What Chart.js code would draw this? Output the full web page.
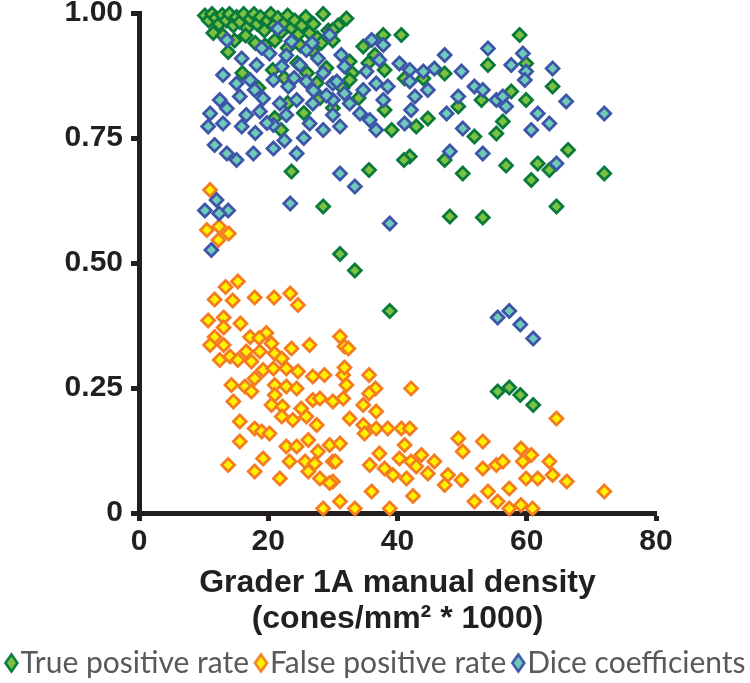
<!DOCTYPE html>
<html><head><meta charset="utf-8">
<script src="https://cdn.jsdelivr.net/npm/chart.js@4/dist/chart.umd.min.js"></script>
<style>html,body{margin:0;padding:0;background:#fff}</style>
</head><body>
<canvas id="c" width="750" height="683"></canvas>
<script>
const seriesNames = ['True positive rate', 'False positive rate', 'Dice coefficients'];
const xTitle = ['Grader 1A manual density', '(cones/mm\u00B2 * 1000)'];
const xTickValues = [0, 20, 40, 60, 80];
const yTickValues = [0, 0.25, 0.5, 0.75, 1];

const truePositive = [
[10.2,0.995],[10.8,0.985],[11.3,0.998],[11.9,0.99],[12.4,0.978],[12.9,0.996],[13.5,0.985],[14.0,0.998],[14.6,0.975],[15.1,0.992],
[15.6,0.982],[16.2,0.998],[16.7,0.97],[17.2,0.988],[17.8,0.998],[18.3,0.978],[18.8,0.992],[19.4,0.965],[19.9,0.985],[20.4,0.998],
[20.9,0.975],[21.5,0.99],[22.0,0.962],[22.5,0.98],[23.0,0.995],[23.6,0.97],[24.1,0.985],[24.7,0.958],[25.2,0.975],[25.8,0.992],
[26.4,0.96],[27.0,0.978],[27.6,0.95],[28.5,0.998],[29.3,0.965],[30.0,0.945],[30.8,0.975],[32.1,0.989],
[11.5,0.96],[13.0,0.955],[14.8,0.945],[16.5,0.955],[18.0,0.94],[19.5,0.935],[21.0,0.945],[23.0,0.93],[25.0,0.935],[26.8,0.925],[28.2,0.94],[13.8,0.922],
[20.7,0.886],[22.5,0.87],[24.5,0.9],[26.0,0.88],[27.5,0.86],[29.0,0.89],[30.0,0.81],[31.5,0.85],[33.0,0.88],[34.0,0.83],[35.5,0.9],
[28.0,0.83],[25.5,0.8],[23.0,0.82],[21.0,0.79],[18.5,0.85],[16.0,0.88],[22.0,0.766],[23.6,0.683],
[30.0,0.966],[37.8,0.956],[40.6,0.956],[34.7,0.933],[36.5,0.916],[32.6,0.903],[38.0,0.886],[47.3,0.879],[41.1,0.869],[44.0,0.869],
[32.6,0.866],[57.6,0.843],[59.9,0.826],[53.0,0.826],[49.4,0.813],[38.0,0.806],[44.7,0.789],[39.1,0.766],[42.9,0.773],[56.3,0.783],
[55.3,0.759],[51.9,0.753],[58.9,0.956],[54.0,0.896],[59.9,0.899],[64.0,0.853],[66.4,0.726],[61.7,0.699],[63.5,0.686],[60.7,0.666],
[56.8,0.695],[50.1,0.679],[41.9,0.713],[41.0,0.706],[47.3,0.706],[35.6,0.686],[72.0,0.679],
[28.5,0.613],[31.1,0.518],[33.4,0.485],[48.1,0.593],[53.2,0.591],[64.6,0.613],[38.8,0.404],
[55.5,0.243],[57.3,0.251],[59.0,0.236],[61.0,0.216]
];

const falsePositive = [
[11.0,0.646],[10.5,0.566],[12.4,0.573],[13.9,0.559],[12.3,0.546],
[15.3,0.463],[13.4,0.452],[11.7,0.427],[14.5,0.425],[17.9,0.431],[20.9,0.431],[23.4,0.439],[24.6,0.416],
[10.7,0.385],[13.1,0.391],[15.7,0.379],[13.1,0.371],[11.7,0.352],[17.2,0.352],[19.7,0.360],[18.6,0.350],[11.0,0.336],[13.1,0.336],[20.5,0.339],
[12.5,0.306],[14.1,0.313],[15.3,0.306],[16.6,0.323],[17.4,0.303],[18.7,0.323],[21.0,0.319],[22.1,0.309],[23.6,0.329],[26.4,0.336],[31.1,0.353],[31.8,0.333],
[19.2,0.286],[20.8,0.289],[22.8,0.289],[24.6,0.283],[26.9,0.273],[28.7,0.276],[31.6,0.276],
[14.3,0.256],[17.9,0.269],[16.4,0.253],[14.6,0.223],[17.4,0.243],[21.0,0.256],[22.8,0.253],[24.4,0.249],[21.0,0.236],[20.5,0.216],
[22.2,0.213],[25.1,0.209],[26.9,0.226],[28.0,0.229],[30.0,0.223],[31.6,0.229],
[22.1,0.193],[23.8,0.186],[25.9,0.193],[27.5,0.176],[15.6,0.183],[17.9,0.169],[19.0,0.163],[20.2,0.159],[15.6,0.143],[22.8,0.133],
[24.4,0.133],[26.2,0.146],[27.7,0.123],[29.5,0.136],[31.1,0.139],
[19.2,0.109],[23.3,0.103],[25.7,0.103],[27.2,0.099],[30.0,0.103],[13.8,0.096],[17.9,0.083],[21.8,0.069],[26.2,0.083],[28.0,0.069],
[30.0,0.063],[31.1,0.023],[28.5,0.009],
[32.4,0.329],[31.8,0.291],[32.1,0.256],[35.6,0.276],[36.6,0.249],[35.6,0.239],[42.1,0.249],[34.7,0.216],[36.7,0.203],[32.6,0.189],
[34.7,0.176],[36.7,0.169],[38.5,0.169],[40.6,0.169],[41.9,0.169],[34.9,0.159],[41.1,0.136],[37.2,0.119],[40.3,0.109],[42.1,0.103],
[43.7,0.116],[45.7,0.103],[30.4,0.103],[35.7,0.096],[38.0,0.089],[39.3,0.076],[41.4,0.069],[42.9,0.093],[44.7,0.079],[47.8,0.076],
[49.9,0.066],[47.3,0.056],[49.4,0.149],[50.1,0.123],[53.2,0.143],[53.2,0.089],[55.3,0.096],[56.3,0.103],[59.1,0.129],[60.7,0.116],
[59.4,0.103],[63.5,0.103],[59.9,0.069],[61.7,0.069],[64.0,0.076],[66.2,0.063],[57.3,0.049],[54.0,0.043],[55.5,0.023],[51.9,0.023],
[59.1,0.016],[60.9,0.009],[57.3,0.009],[64.6,0.189],[72.0,0.043],[33.4,0.009],[38.8,0.009],[29.5,0.060],[36.0,0.043],[42.4,0.034]
];

const diceCoefficients = [
[13.6,0.946],[15.9,0.909],[21.5,0.969],[18.2,0.896],[20.2,0.919],[23.6,0.943],[25.9,0.926],[29.5,0.956],[27.7,0.909],[24.9,0.896],[22.1,0.893],
[13.0,0.876],[15.1,0.859],[17.2,0.866],[20.8,0.866],[23.1,0.853],[25.9,0.863],[30.0,0.859],[31.8,0.893],
[12.5,0.826],[15.6,0.833],[17.9,0.846],[19.2,0.829],[21.8,0.819],[24.4,0.826],[26.9,0.819],[30.0,0.826],
[11.0,0.799],[13.6,0.809],[16.6,0.796],[18.7,0.803],[22.8,0.796],[30.0,0.796],
[10.7,0.773],[13.0,0.779],[15.9,0.773],[20.8,0.776],[26.4,0.779],[28.5,0.766],
[11.7,0.736],[13.6,0.719],[15.1,0.706],[17.7,0.719],[20.8,0.729],[24.4,0.719],[31.1,0.679],
[19.0,0.93],[22.8,0.915],[26.8,0.94],[28.5,0.88],[24.0,0.87],[27.0,0.845],[29.0,0.835],[19.8,0.78],[18.0,0.76],[22.5,0.745],[25.5,0.75],
[10.2,0.605],[12.0,0.626],[13.8,0.605],[12.4,0.599],[11.2,0.526],[23.4,0.619],
[31.3,0.916],[36.0,0.946],[37.8,0.936],[37.2,0.906],[35.2,0.883],[30.6,0.863],[31.8,0.839],[34.7,0.846],[36.7,0.859],[38.5,0.853],
[40.3,0.899],[41.9,0.886],[44.0,0.883],[45.7,0.889],[47.3,0.916],[49.9,0.883],[41.9,0.863],[42.7,0.833],[44.7,0.846],[32.6,0.819],
[34.2,0.799],[35.7,0.786],[36.7,0.766],[31.1,0.773],[37.8,0.826],[41.1,0.779],[42.1,0.806],[47.6,0.799],[49.4,0.833],[51.9,0.853],
[53.2,0.846],[55.3,0.826],[56.3,0.833],[56.8,0.813],[54.0,0.929],[57.6,0.896],[59.4,0.919],[59.9,0.883],[59.7,0.866],[64.0,0.889],
[66.1,0.823],[61.7,0.799],[63.5,0.779],[60.7,0.766],[50.1,0.769],[72.0,0.799],[64.6,0.699],[48.1,0.723],[53.2,0.719],[33.4,0.653],
[38.8,0.579],
[55.5,0.391],[57.3,0.404],[59.0,0.377],[61.0,0.349]
];

const toPts = a => a.map(p => ({x: p[0], y: p[1]}));
const INK = '#231f20';
const BOLD = {family: "'Liberation Sans', Arial, sans-serif", size: 30, weight: 'bold', lineHeight: 1.2};

function ds(label, data, bg, border, order) {
  return {
    label, data: toPts(data), order,
    pointStyle: 'rectRot', pointRadius: 6.5, pointHoverRadius: 6.5,
    borderWidth: 2.7, backgroundColor: bg, borderColor: border, clip: false
  };
}

// legend glyph: a tall diamond placed to the right of the glyph image centre
function legendGlyph(fill, stroke) {
  const c = document.createElement('canvas');
  c.width = 34; c.height = 24;
  const g = c.getContext('2d');
  const cx = 23.5, cy = 12, hw = 6, hh = 8.5;
  g.beginPath();
  g.moveTo(cx - hw, cy); g.lineTo(cx, cy - hh); g.lineTo(cx + hw, cy); g.lineTo(cx, cy + hh);
  g.closePath();
  g.fillStyle = fill; g.fill();
  g.lineWidth = 2.5; g.strokeStyle = stroke; g.stroke();
  return c;
}

new Chart(document.getElementById('c'), {
  type: 'scatter',
  data: {
    datasets: [
      ds(seriesNames[0], truePositive, '#7cc242', '#0a7a3c', 3),
      ds(seriesNames[1], falsePositive, '#fff200', '#f47b20', 2),
      ds(seriesNames[2], diceCoefficients, '#6fcab8', '#3d55a8', 1)
    ]
  },
  options: {
    responsive: false,
    animation: false,
    layout: {autoPadding: false, padding: {top: 0, right: -12, bottom: -5, left: -12}},
    plugins: {
      tooltip: {enabled: false},
      legend: {
        position: 'bottom',
        labels: {
          usePointStyle: true, pointStyleWidth: 1, boxHeight: 11, padding: 5,
          color: '#595959',
          font: {family: "Lato, 'Open Sans', sans-serif", size: 30},
          sort: (a, b) => a.datasetIndex - b.datasetIndex,
          generateLabels: chart => {
            const items = Chart.defaults.plugins.legend.labels.generateLabels(chart);
            items.forEach(it => { it.pointStyle = legendGlyph(it.fillStyle, it.strokeStyle); });
            return items;
          }
        }
      }
    },
    scales: {
      x: {
        type: 'linear', min: 0, max: 80,
        afterBuildTicks: s => { s.ticks = xTickValues.map(v => ({value: v})); },
        afterFit: s => { s.height = 130; s.paddingLeft = 0; s.paddingRight = 94; s.paddingTop = 0; s.paddingBottom = 0; },
        ticks: {color: INK, font: BOLD, padding: 3, maxRotation: 0, autoSkip: false},
        grid: {drawOnChartArea: false, drawTicks: true, tickLength: 8, tickWidth: 5, tickColor: INK},
        border: {display: true, width: 5, color: INK},
        title: {display: true, text: xTitle, color: INK,
          font: {family: "'Liberation Sans', Arial, sans-serif", size: 32, weight: 'bold', lineHeight: 1.15},
          padding: {top: 0, bottom: 5}}
      },
      y: {
        type: 'linear', min: 0, max: 1,
        afterBuildTicks: s => { s.ticks = yTickValues.map(v => ({value: v})); },
        afterFit: s => { s.width = 151; s.paddingTop = 13; s.paddingBottom = 0; s.paddingLeft = 0; s.paddingRight = 0; },
        ticks: {color: INK, font: BOLD, padding: 8, callback: v => v === 0 ? '0' : v.toFixed(2)},
        grid: {drawOnChartArea: false, drawTicks: true, tickLength: 8, tickWidth: 5, tickColor: INK},
        border: {display: true, width: 5, color: INK}
      }
    }
  }
});
</script>
</body></html>
